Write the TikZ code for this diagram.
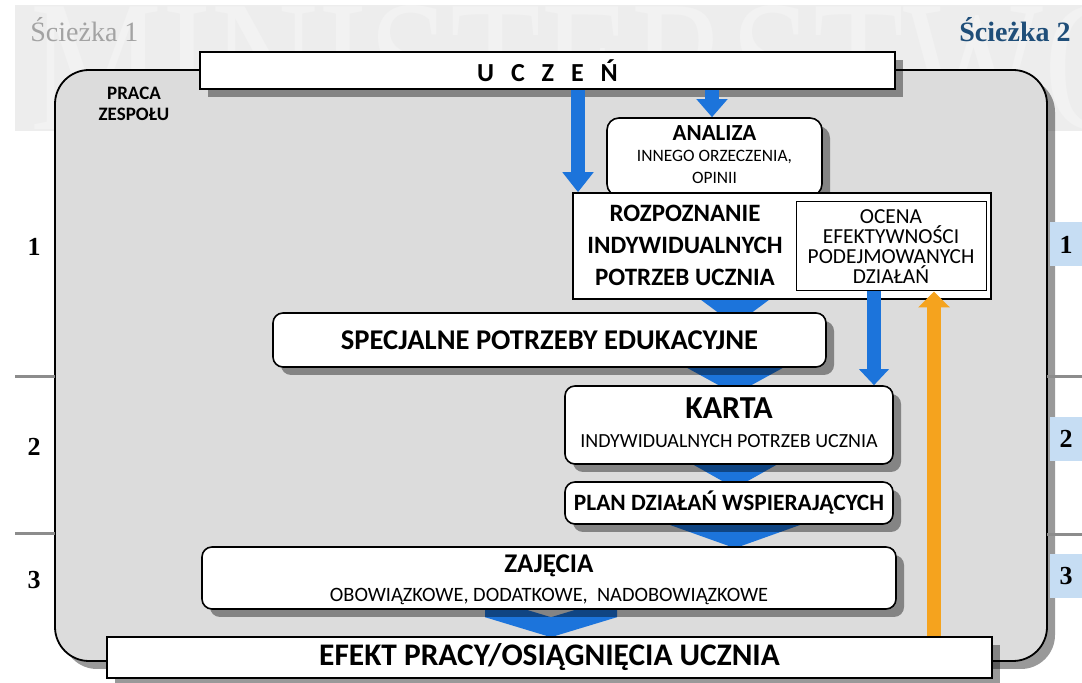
\documentclass[tikz,border=0pt]{standalone}
\usepackage{fontspec}
\setmainfont{Carlito}
\newfontfamily\tnr{Liberation Serif}
\usetikzlibrary{arrows.meta,calc,shadows}

\definecolor{panelgray}{HTML}{DCDCDC}
\definecolor{bandgray}{HTML}{EDEDED}
\definecolor{markgray}{HTML}{F2F2F2}
\definecolor{arrowblue}{HTML}{1C74DB}
\definecolor{arroworange}{HTML}{F5A31E}
\definecolor{pathblue}{HTML}{1F4E79}
\definecolor{numblue}{HTML}{C6DDF3}
\definecolor{divgray}{HTML}{8C8C8C}

\pgfdeclarelayer{back}
\pgfdeclarelayer{mid}
\pgfsetlayers{back,mid,main}

\tikzset{
  boxshadow/.style={drop shadow={shadow xshift=4pt, shadow yshift=-4pt, fill=black, opacity=0.4}},
  plainbox/.style={draw=black, line width=0.8pt, fill=white, inner sep=0pt},
  flatbox/.style={plainbox, boxshadow},
  roundbox/.style={flatbox, rounded corners=5pt},
  mainbox/.style={draw=black, line width=0.9pt, fill=panelgray, rounded corners=17pt, inner sep=0pt, boxshadow},
  bluearrow/.style={draw=arrowblue, line width=7pt, -{Triangle[width=15pt,length=10pt]}},
  orangearrow/.style={draw=arroworange, line width=7pt, -{Triangle[width=15.5pt,length=8pt]}},
  chevblue/.style={fill=arrowblue},
  numbox/.style={fill=numblue, minimum width=16pt, minimum height=22pt, inner sep=0pt, font=\tnr\bfseries\fontsize{13}{13}\selectfont},
  numtext/.style={inner sep=0pt, font=\tnr\bfseries\fontsize{13}{13}\selectfont},
  divider/.style={draw=divgray, line width=1.5pt}
}

% chevron: tip, half width, depth, thickness
\newcommand{\chevdown}[4]{%
  \fill[chevblue] ($(#1)+(-#2,-#3-#4)$) -- ($(#1)+(0,-#4)$) -- ($(#1)+(#2,-#3-#4)$)
    -- ($(#1)+(#2,-#3)$) -- (#1) -- ($(#1)+(-#2,-#3)$) -- cycle;}

\begin{document}
\begin{tikzpicture}[x=0.5pt,y=-0.5pt]
\useasboundingbox (0,0) rectangle (1082,683);

\begin{pgfonlayer}{back}
  % band with watermark
  \fill[bandgray] (15,5) rectangle (1082,131);
  \begin{scope}
    \clip (15,5) rectangle (1082,131);
    \node[font=\tnr, text=markgray, anchor=base west, inner sep=0pt] (mark) at (30,130)
      {\resizebox{560pt}{62pt}{MINISTERSTWO}};
  \end{scope}
  % path titles
  \node[font=\tnr\fontsize{14}{14}\selectfont, text=black!36, anchor=base west, inner sep=0pt] (path1) at (30,42) {Ścieżka 1};
  \node[font=\tnr\bfseries\fontsize{14}{14}\selectfont, text=pathblue, anchor=base east, inner sep=0pt] (path2) at (1071,42) {Ścieżka 2};
  % main panel
  \node[mainbox, minimum width=496pt, minimum height=295.5pt] (zespol) at (551,365.5) {};
  % dividers
  \draw[divider] (15,377) -- (55,377);
  \draw[divider] (15,534) -- (55,534);
  \draw[divider] (1047,377) -- (1082,377);
  \draw[divider] (1047,535) -- (1082,535);
\end{pgfonlayer}

% stage numbers
\node[numtext] (n1) at (34,247) {1};
\node[numtext] (n2) at (34,447) {2};
\node[numtext] (n3) at (34,580) {3};
\node[numbox] (m1) at (1066,244.5) {1};
\node[numbox] (m2) at (1066,439) {2};
\node[numbox] (m3) at (1066,576.5) {3};

\node[font=\bfseries\fontsize{9.5}{10.5}\selectfont, align=center] (praca) at (134,104) {PRACA\\ZESPOŁU};

% boxes
\node[flatbox, minimum width=347.5pt, minimum height=18.5pt, font=\bfseries\fontsize{13}{13}\selectfont] (uczen) at (547.5,70.5)
  {U\hspace{0.65em}C\hspace{0.65em}Z\hspace{0.65em}E\hspace{0.65em}Ń};

\node[roundbox, rounded corners=6pt, minimum width=107.5pt, minimum height=39pt] (analiza) at (714.5,157) {};
\node[anchor=base, inner sep=0pt, font=\bfseries\fontsize{11.5}{12}\selectfont] (analiza1) at ($(analiza.north)+(0,23.5)$) {ANALIZA};
\node[anchor=base, inner sep=0pt, font=\fontsize{8.7}{9}\selectfont] (analiza2) at ($(analiza.north)+(0,44)$) {INNEGO ORZECZENIA,};
\node[anchor=base, inner sep=0pt, font=\fontsize{8.7}{9}\selectfont] (analiza3) at ($(analiza.north)+(0,66)$) {OPINII};

\node[plainbox, minimum width=209pt, minimum height=53pt] (rozp) at (782,246) {};
\node[font=\bfseries\fontsize{12.5}{16}\selectfont, align=center] (rozptxt) at (685,245)
  {ROZPOZNANIE\\INDYWIDUALNYCH\\POTRZEB UCZNIA};
\node[draw, line width=0.5pt, fill=white, minimum width=95pt, minimum height=44.5pt, inner sep=0pt,
  align=center, font=\fontsize{10.7}{10}\selectfont] (ocena) at (891,246.5)
  {OCENA\\EFEKTYWNOŚCI\\PODEJMOWANYCH\\DZIAŁAŃ};

\node[roundbox, minimum width=276.5pt, minimum height=27pt, font=\bfseries\fontsize{14.3}{15}\selectfont] (spec) at (549.5,340)
  {SPECJALNE POTRZEBY EDUKACYJNE};

\node[roundbox, minimum width=164pt, minimum height=39pt] (karta) at (729,425) {};
\node[anchor=base, inner sep=0pt, font=\bfseries\fontsize{16}{16}\selectfont] (karta1) at ($(karta.north)+(0,33)$) {KARTA};
\node[anchor=base, inner sep=0pt, font=\fontsize{10}{10}\selectfont] (karta2) at ($(karta.north)+(0,62)$) {INDYWIDUALNYCH POTRZEB UCZNIA};

\node[roundbox, minimum width=164pt, minimum height=21pt, font=\bfseries\fontsize{11.7}{12}\selectfont] (plan) at (729,503)
  {PLAN DZIAŁAŃ WSPIERAJĄCYCH};

\node[roundbox, minimum width=347pt, minimum height=31pt] (zaj) at (549,578) {};
\node[anchor=base, inner sep=0pt, font=\bfseries\fontsize{13.5}{14}\selectfont] (zaj1) at ($(zaj.north)+(0,26)$) {ZAJĘCIA};
\node[anchor=base, inner sep=0pt, font=\fontsize{10.2}{11}\selectfont] (zaj2) at ($(zaj.north)+(0,55)$) {OBOWIĄZKOWE, DODATKOWE,\ \ NADOBOWIĄZKOWE};

\node[flatbox, minimum width=442.5pt, minimum height=20.5pt, font=\bfseries\fontsize{15.7}{16}\selectfont] (efekt) at (549.5,657.5)
  {EFEKT PRACY/OSIĄGNIĘCIA UCZNIA};

% arrow columns
\coordinate (ax1) at (578,0);
\coordinate (ax2) at (712,0);
\coordinate (ax3) at (874,0);
\coordinate (ax4) at (934,0);
\coordinate (cx) at (735,0);
\coordinate (cz) at (551,0);

% chevrons under the boxes
\begin{pgfonlayer}{mid}
  \coordinate (k1) at ($(spec.north -| cx)+(0,13)$);
  \coordinate (k2) at ($(karta.north -| cx)+(0,9)$);
  \coordinate (k3) at ($(plan.north -| cx)+(0,7)$);
  \coordinate (k4) at ($(zaj.north -| cx)+(0,2)$);
  \coordinate (k5) at ($(efekt.north -| cz)+(0,1)$);
  \chevdown{k1}{55}{41}{35}
  \chevdown{k2}{60}{33}{35}
  \chevdown{k3}{55}{31}{30}
  \chevdown{k4}{70}{25}{30}
  \chevdown{k5}{66}{20}{20}
\end{pgfonlayer}

% straight arrows
\draw[bluearrow] (uczen.south -| ax1) -- (rozp.north -| ax1);
\draw[bluearrow, -{Triangle[width=15pt,length=9pt]}] (uczen.south -| ax2) -- (analiza.north -| ax2);
\draw[bluearrow, -{Triangle[width=14.5pt,length=8pt]}] (ocena.south -| ax3) -- (karta.north -| ax3);
\draw[orangearrow] (efekt.north -| ax4) -- (ocena.south -| ax4);

\end{tikzpicture}
\end{document}
